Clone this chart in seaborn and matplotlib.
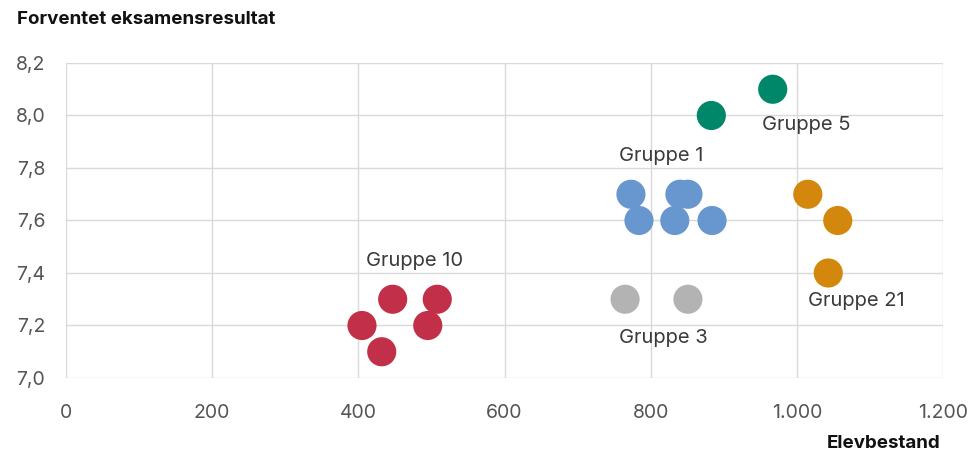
import matplotlib
matplotlib.use("Agg")
import matplotlib.pyplot as plt
import seaborn as sns
import pandas as pd
from matplotlib.ticker import FuncFormatter

groups = ["Gruppe 10"] * 5 + ["Gruppe 1"] * 6 + ["Gruppe 3"] * 2 + ["Gruppe 5"] * 2 + ["Gruppe 21"] * 3
elevbestand = [405, 432, 447, 495, 508,
               773, 784, 840, 851, 833, 884,
               765, 851,
               883, 967,
               1015, 1056, 1043]
resultat = [7.2, 7.1, 7.3, 7.2, 7.3,
            7.7, 7.6, 7.7, 7.7, 7.6, 7.6,
            7.3, 7.3,
            8.0, 8.1,
            7.7, 7.6, 7.4]
palette = {"Gruppe 10": "#C22F48", "Gruppe 1": "#6896CE", "Gruppe 3": "#B3B3B3",
           "Gruppe 5": "#00876A", "Gruppe 21": "#D3870D"}
labels = ["Gruppe 10", "Gruppe 1", "Gruppe 3", "Gruppe 5", "Gruppe 21"]
label_x = [477, 815, 817, 1013, 1082]
label_y = [7.446, 7.846, 7.152, 7.964, 7.293]

df = pd.DataFrame({"gruppe": groups, "x": elevbestand, "y": resultat})

sns.set_theme(style="white")
plt.rcParams["font.family"] = ["Inter", "DejaVu Sans"]

fig = plt.figure(figsize=(9.77, 4.5), dpi=100)
ax = fig.add_axes([66 / 977, 1 - 378 / 450, (943 - 66) / 977, (378 - 63) / 450])

sns.scatterplot(data=df, x="x", y="y", hue="gruppe", palette=palette, s=440,
                edgecolor="none", legend=False, ax=ax, zorder=3)

for t, lx, ly in zip(labels, label_x, label_y):
    ax.text(lx, ly, t, ha="center", va="center", fontsize=14.5, color="#3a3a3a")

ax.set_xlim(0, 1200)
ax.set_ylim(7.0, 8.2)
ax.set_xticks(range(0, 1201, 200))
ax.set_yticks([7.0, 7.2, 7.4, 7.6, 7.8, 8.0, 8.2])
ax.xaxis.set_major_formatter(FuncFormatter(lambda v, p: f"{int(v):,}".replace(",", ".")))
ax.yaxis.set_major_formatter(FuncFormatter(lambda v, p: f"{v:.1f}".replace(".", ",")))
ax.grid(True, color="#d9d9d9", linewidth=1)
ax.set_axisbelow(True)
for sp in ax.spines.values():
    sp.set_visible(False)
ax.tick_params(axis="both", length=0, labelsize=14, labelcolor="#555555")
ax.tick_params(axis="x", pad=19)
ax.tick_params(axis="y", pad=15)
ax.set_xlabel("")
ax.set_ylabel("")

fig.text(17 / 977, 1 - 19 / 450, "Forventet eksamensresultat", fontsize=13.5,
         fontweight="bold", color="#111111", ha="left", va="center")
fig.text(940 / 977, 1 - 443 / 450, "Elevbestand", fontsize=13.5,
         fontweight="bold", color="#111111", ha="right", va="center")

fig.savefig("out.png", dpi=100)
